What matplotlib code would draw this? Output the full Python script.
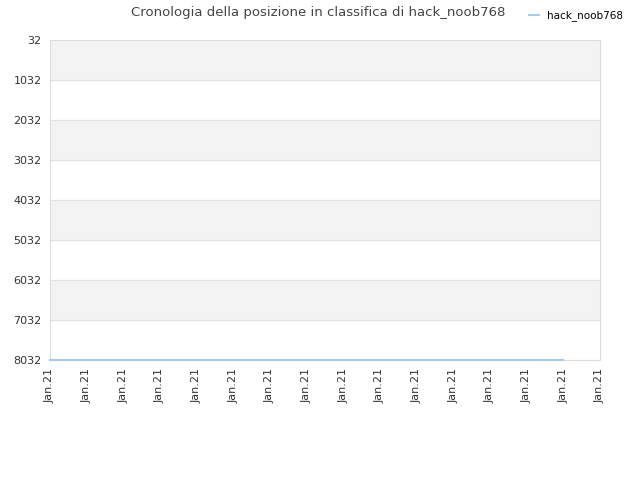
import matplotlib
matplotlib.use("Agg")
import matplotlib.pyplot as plt

# positions (day index within the period) and rank values
days = [0, 1, 2, 3, 4, 5, 6, 7, 8, 9, 10, 11, 12, 13, 14]
ranks = [8032, 8032, 8032, 8032, 8032, 8032, 8032, 8032, 8032, 8032, 8032, 8032, 8032, 8032, 8032]
tick_pos = list(range(16))
tick_labels = ["Jan.21"] * 16
y_ticks = [32, 1032, 2032, 3032, 4032, 5032, 6032, 7032, 8032]

fig = plt.figure(figsize=(6.4, 4.8), dpi=100)
ax = fig.add_axes([50 / 640, 1 - 360 / 480, 550 / 640, 320 / 480])

# alternating horizontal bands
for i in range(len(y_ticks) - 1):
    if i % 2 == 0:
        ax.axhspan(y_ticks[i], y_ticks[i + 1], color="#f3f3f3", zorder=0)
for y in y_ticks:
    ax.axhline(y, color="#e2e2e2", linewidth=0.8, zorder=1)

ax.plot(days, ranks, color="#a8cbec", linewidth=1.5, label="hack_noob768",
        zorder=5, clip_on=False)

ax.set_xlim(tick_pos[0], tick_pos[-1])
ax.set_ylim(y_ticks[-1], y_ticks[0])
ax.set_yticks(y_ticks)
ax.set_yticklabels([str(v) for v in y_ticks])
ax.set_xticks(tick_pos)
ax.set_xticklabels(tick_labels, rotation=90)
ax.tick_params(axis="both", length=0, labelsize=8, colors="#333333", pad=6)

for s in ax.spines.values():
    s.set_color("#dddddd")
    s.set_linewidth(0.8)
    s.set_zorder(2)

fig.text(0.497, 0.973, "Cronologia della posizione in classifica di hack_noob768",
         ha="center", va="center", fontsize=9.5, color="#444444")
fig.legend(loc="center", bbox_to_anchor=(0.9, 0.967), frameon=False,
           fontsize=7.5, handlelength=1.0, handletextpad=0.8)

fig.savefig("out.png", dpi=100)
